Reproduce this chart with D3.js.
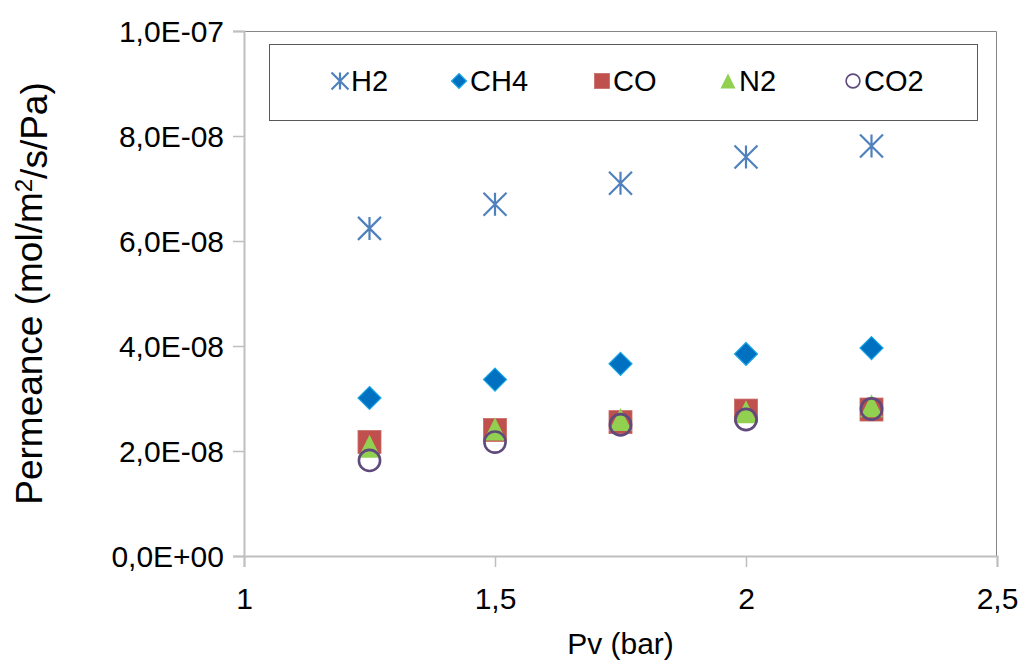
<!DOCTYPE html>
<html>
<head>
<meta charset="utf-8">
<script src="https://cdn.jsdelivr.net/npm/d3@7"></script>
<style>
  html, body { margin: 0; padding: 0; background: #fff; }
  svg { display: block; font-family: "Liberation Sans", Arial, sans-serif; }
</style>
</head>
<body>
<svg id="chart" width="1023" height="663"></svg>
<script>
// Feed pressure (bar)
const pressures = [1.25, 1.5, 1.75, 2.0, 2.25];

// Permeance per gas (mol/m2/s/Pa)
const h2  = [6.24e-8, 6.70e-8, 7.10e-8, 7.60e-8, 7.81e-8];
const ch4 = [3.01e-8, 3.36e-8, 3.66e-8, 3.85e-8, 3.96e-8];
const co  = [2.17e-8, 2.40e-8, 2.55e-8, 2.77e-8, 2.79e-8];
const n2  = [2.09e-8, 2.42e-8, 2.60e-8, 2.75e-8, 2.86e-8];
const co2 = [1.82e-8, 2.17e-8, 2.50e-8, 2.60e-8, 2.80e-8];

const seriesNames = ["H2", "CH4", "CO", "N2", "CO2"];
const xTicks = [1, 1.5, 2, 2.5];
const yTicks = [0, 2e-8, 4e-8, 6e-8, 8e-8, 1e-7];

const svg = d3.select("#chart");
const plotL = 244, plotR = 997, plotT = 31, plotB = 556;

const x = d3.scaleLinear().domain([1, 2.5]).range([plotL, plotR]);
const y = d3.scaleLinear().domain([0, 1e-7]).range([plotB, plotT]);

// Number formats with decimal comma
const fmtX = d => String(d).replace(".", ",");
const fmtY = d => {
  const [m, e] = d.toExponential(1).split("e");
  const ev = parseInt(e, 10);
  const sign = ev < 0 ? "-" : "+";
  return m.replace(".", ",") + "E" + sign + String(Math.abs(ev)).padStart(2, "0");
};

// Plot area frame (top and right)
svg.append("path")
  .attr("d", `M${plotL},${plotT + 0.5}H${plotR - 0.5}V${plotB}`)
  .attr("fill", "none").attr("stroke", "#868686").attr("stroke-width", 1);

// Axes
const axisColor = "#bfbfbf";
const yAxis = svg.append("g")
  .attr("transform", `translate(${plotL},0)`)
  .call(d3.axisLeft(y).tickValues(yTicks).tickFormat(fmtY).tickSize(11).tickPadding(9));
const xAxis = svg.append("g")
  .attr("transform", `translate(0,${plotB})`)
  .call(d3.axisBottom(x).tickValues(xTicks).tickFormat(fmtX).tickSize(11).tickPadding(21));

[xAxis, yAxis].forEach(g => {
  g.select(".domain").attr("stroke", axisColor).attr("stroke-width", 2);
  g.selectAll(".tick line").attr("stroke", axisColor).attr("stroke-width", 1.5);
  g.selectAll(".tick text").attr("fill", "#000").style("font-size", "30px")
    .style("font-family", "'Liberation Sans', Arial, sans-serif");
});
yAxis.selectAll(".tick text").attr("dy", "0.35em");

// Axis titles
svg.append("text")
  .attr("x", (plotL + plotR) / 2).attr("y", 654)
  .attr("text-anchor", "middle")
  .style("font-size", "30px").attr("fill", "#000")
  .text("Pv (bar)");

const yTitle = svg.append("text")
  .attr("transform", `translate(42,${(plotT + plotB) / 2}) rotate(-90)`)
  .attr("text-anchor", "middle")
  .style("font-size", "37px").attr("fill", "#000");
yTitle.append("tspan").text("Permeance (mol/m");
yTitle.append("tspan").attr("dy", "-0.4em").style("font-size", "24px").text("2");
yTitle.append("tspan").attr("dy", "0.4em").text("/s/Pa)");

// Marker drawing helpers
const markers = {
  H2: (g, s) => g.append("path")
    .attr("d", `M0,${-s}V${s}M${-s},${-s}L${s},${s}M${-s},${s}L${s},${-s}`)
    .attr("fill", "none").attr("stroke", s > 8 ? "#4f81bd" : "#8db0dc")
    .attr("stroke-width", s > 8 ? 2.2 : 1.2),
  CH4: (g, s) => g.append("path")
    .attr("d", `M0,${-s}L${s},0L0,${s}L${-s},0Z`)
    .attr("fill", "#0070c0").attr("stroke", "#19a6e6").attr("stroke-width", 1.2),
  CO: (g, s) => g.append("rect")
    .attr("x", -s).attr("y", -s).attr("width", 2 * s).attr("height", 2 * s)
    .attr("fill", "#c0504d").attr("stroke", "#c96a67").attr("stroke-width", 0.8),
  N2: (g, s) => g.append("path")
    .attr("d", `M0,${-s}L${s},${s}L${-s},${s}Z`)
    .attr("fill", "#92d050"),
  CO2: (g, s) => g.append("circle")
    .attr("r", s * 0.92)
    .attr("fill", "none").attr("stroke", "#604a7b").attr("stroke-width", s > 8 ? 2.6 : 1.6)
};

const seriesValues = { H2: h2, CH4: ch4, CO: co, N2: n2, CO2: co2 };

// Data points, drawn in series order
seriesNames.forEach(name => {
  const vals = seriesValues[name];
  const grp = svg.append("g").attr("class", "series-" + name);
  pressures.forEach((p, i) => {
    const g = grp.append("g").attr("transform", `translate(${x(p)},${y(vals[i])})`);
    markers[name](g, 11.5);
  });
});

// Legend
const legend = svg.append("g");
legend.append("rect")
  .attr("x", 269.5).attr("y", 44.5).attr("width", 708).attr("height", 76)
  .attr("fill", "#fff").attr("stroke", "#595959").attr("stroke-width", 1);

const legendX = [340, 459, 602, 728, 853];
seriesNames.forEach((name, i) => {
  const g = legend.append("g").attr("transform", `translate(${legendX[i]},81)`);
  markers[name](g, name === "H2" ? 8.5 : 7.5);
  legend.append("text")
    .attr("x", legendX[i] + 11).attr("y", 81).attr("dy", "0.36em")
    .style("font-size", "29px").attr("fill", "#000")
    .text(name);
});
</script>
</body>
</html>
